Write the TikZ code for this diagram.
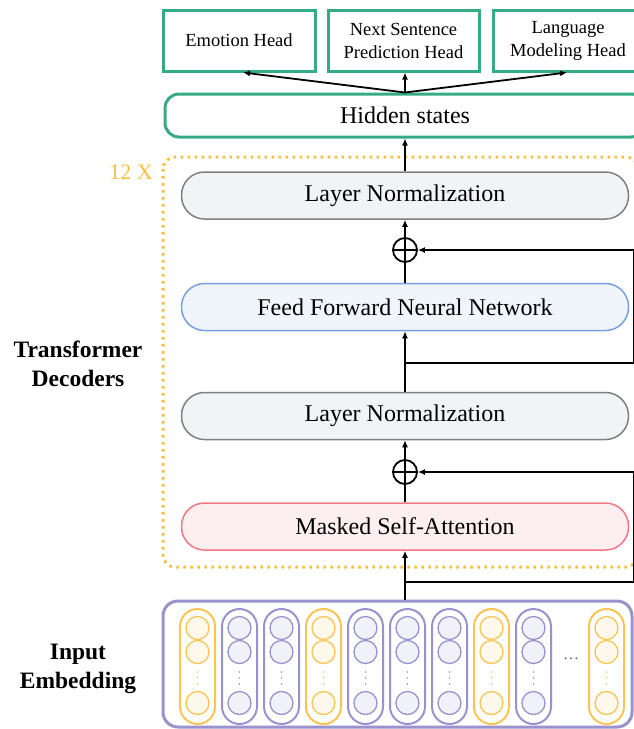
\documentclass[tikz,border=0pt]{standalone}
\usepackage{fontspec}
\setmainfont{Liberation Serif}
\usetikzlibrary{arrows.meta}

\definecolor{headgreen}{RGB}{52,172,130}
\definecolor{loopgold}{RGB}{250,190,62}
\definecolor{normedge}{RGB}{128,128,128}
\definecolor{normfill}{RGB}{242,243,245}
\definecolor{ffnedge}{RGB}{120,160,222}
\definecolor{ffnfill}{RGB}{240,244,251}
\definecolor{attnedge}{RGB}{240,120,132}
\definecolor{attnfill}{RGB}{253,238,240}
\definecolor{embpurple}{RGB}{152,147,206}
\definecolor{embpfill}{RGB}{241,241,249}
\definecolor{embgold}{RGB}{250,196,82}
\definecolor{embgfill}{RGB}{255,249,237}

% one token column of the embedding: name, x position, border colour, fill colour
\newcommand{\tokencolumn}[4]{%
  \node[colpill, draw=#3] (#1) at (#2,666.5) {};
  \foreach \cy in {628,652,703}
    \draw[draw=#3, fill=#4, line width=1.3pt] (#2,\cy) circle (11.5);
  \foreach \dy in {672,678,684}
    \fill[#3] (#2,\dy) circle (0.9);
}

\begin{document}
\begin{tikzpicture}[x=1pt, y=-1pt,
  headbox/.style={draw=headgreen, line width=3pt, minimum width=152pt,
    minimum height=61pt, align=center, inner sep=0pt,
    font=\fontsize{18.5}{23}\selectfont},
  layerbox/.style={rounded corners=23pt, minimum width=447pt,
    minimum height=47pt, line width=1.5pt, inner sep=0pt,
    font=\fontsize{24}{28}\selectfont},
  sidelabel/.style={align=center, font=\bfseries\fontsize{23.5}{28.5}\selectfont},
  addnode/.style={circle, draw, line width=1.8pt, minimum size=24pt, inner sep=0pt},
  colpill/.style={rounded corners=17.5pt, minimum width=35pt, minimum height=115pt,
    line width=2pt, inner sep=0pt},
  link/.style={line width=1.8pt},
  arr/.style={line width=1.8pt, -{Latex[length=7pt,width=6pt]}}]

\useasboundingbox (0,0) rectangle (634,729);

% output heads
\node[headbox] (emo) at (239,40.5) {Emotion Head};
\node[headbox, minimum width=151pt] (nsp) at (403.5,40.5) {Next Sentence\\Prediction Head};
\node[headbox, minimum width=150pt] (lmh) at (568,40.5) {Language\\Modeling Head};

% hidden states
\node[draw=headgreen, line width=3pt, rounded corners=14pt, minimum width=480pt,
  minimum height=43pt, inner sep=0pt, font=\fontsize{24}{28}\selectfont]
  (hid) at (405,115.5) {Hidden states};

% repeated decoder block
\draw[loopgold, line width=3pt, dash pattern=on 2.6pt off 4.4pt, rounded corners=12pt]
  (163,157) rectangle (638,567);
\node[text=loopgold, font=\fontsize{22}{26}\selectfont] (rep) at (131,172) {12 X};

\node[layerbox, draw=normedge, fill=normfill] (ln1) at (405,195.5) {Layer Normalization};
\node[addnode] (add1) at (405,250) {};
\node[layerbox, draw=ffnedge, fill=ffnfill] (ffn) at (405,307) {Feed Forward Neural Network};
\node[layerbox, draw=normedge, fill=normfill] (ln2) at (405,416) {Layer Normalization};
\node[addnode] (add2) at (405,472) {};
\node[layerbox, draw=attnedge, fill=attnfill] (msa) at (405,526.5) {Masked Self-Attention};

% input embedding
\node[draw=embpurple, line width=3pt, rounded corners=15pt, minimum width=469pt,
  minimum height=126pt, inner sep=0pt] (emb) at (397.5,664) {};
\tokencolumn{e1}{197.5}{embgold}{embgfill}
\tokencolumn{e2}{239.5}{embpurple}{embpfill}
\tokencolumn{e3}{281.5}{embpurple}{embpfill}
\tokencolumn{e4}{323.5}{embgold}{embgfill}
\tokencolumn{e5}{365.5}{embpurple}{embpfill}
\tokencolumn{e6}{407.5}{embpurple}{embpfill}
\tokencolumn{e7}{449.5}{embpurple}{embpfill}
\tokencolumn{e8}{491.5}{embgold}{embgfill}
\tokencolumn{e9}{533.5}{embpurple}{embpfill}
\tokencolumn{e10}{606.5}{embgold}{embgfill}
\node[text=black!60, font=\fontsize{16}{18}\selectfont] (more) at (571,659) {\dots};

% side labels
\node[sidelabel] (declabel) at (78,364) {Transformer\\Decoders};
\node[sidelabel] (emblabel) at (78,669) {Input\\Embedding};

% adders: a circle with a cross
\draw[link] (add1.west) -- (add1.east) (add1.north) -- (add1.south);
\draw[link] (add2.west) -- (add2.east) (add2.north) -- (add2.south);

% main data path
\coordinate (split2) at (405,582);
\coordinate (split1) at (405,363);
\coordinate (side2low) at (634.2,582);
\coordinate (side2up) at (634.2,472);
\coordinate (side1low) at (634.2,363);
\coordinate (side1up) at (634.2,250);

\draw[arr] (emb.north -| msa) -- (msa.south);
\draw[link] (msa.north) -- (add2.south);
\draw[arr] (add2.north) -- (ln2.south);
\draw[arr] (ln2.north) -- (ffn.south);
\draw[link] (ffn.north) -- (add1.south);
\draw[arr] (add1.north) -- (ln1.south);
\draw[arr] (ln1.north) -- (hid.south);

% residual connections
\draw[link] (split2) -- (side2low) -- (side2up);
\draw[arr] (side2up) -- (add2.east);
\draw[link] (split1) -- (side1low) -- (side1up);
\draw[arr] (side1up) -- (add1.east);

% hidden states to the heads
\draw[arr] (hid.north) -- (emo.south -| 243,0);
\draw[arr] (hid.north) -- (nsp.south -| hid.north);
\draw[arr] (hid.north) -- (lmh.south -| 567,0);
\end{tikzpicture}
\end{document}
